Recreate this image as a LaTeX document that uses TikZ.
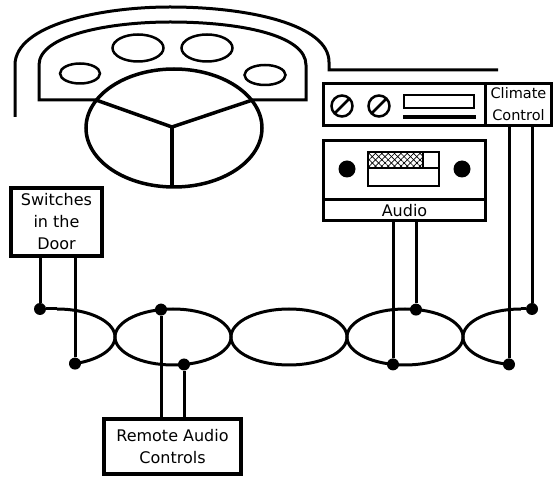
\documentclass[tikz,border=0pt]{standalone}
\usepackage{fontspec}
\setmainfont{DejaVu Sans}
\usetikzlibrary{patterns.meta}
\begin{document}
\begin{tikzpicture}[x=1pt,y=-1pt,
  wire/.style={line width=3pt},
  dashline/.style={line width=3pt},
  gauge/.style={line width=2.5pt},
  labelbox/.style={draw, line width=3.5pt, inner sep=0pt, align=center, font=\fontsize{16}{22}\selectfont},
  unitbox/.style={draw, line width=3pt, inner sep=0pt, align=center, font=\fontsize{16}{22}\selectfont},
  dot/.style={circle, fill=black, inner sep=0pt, minimum size=12pt}]
\useasboundingbox (0,0) rectangle (555,478);

% dashboard
\draw[dashline] (15,117) -- (15,65) .. controls (15,25) and (100,7) .. (170,7)
  .. controls (250,7) and (329,25) .. (329,62) -- (329,70) -- (498,70);
\draw[dashline] (39,100) -- (39,65) .. controls (39,35) and (110,22) .. (170,22)
  .. controls (240,22) and (306,35) .. (306,65) -- (306,100) -- cycle;
% gauges
\draw[gauge] (80,73.5) ellipse [x radius=20pt, y radius=10pt];
\draw[gauge] (138,48) ellipse [x radius=25.5pt, y radius=13.5pt];
\draw[gauge] (207,48) ellipse [x radius=25.5pt, y radius=13.5pt];
\draw[gauge] (265,75) ellipse [x radius=20.5pt, y radius=10pt];
% steering wheel
\draw[line width=3.5pt, fill=white] (174,128) ellipse [x radius=88pt, y radius=59pt];
\coordinate (hub) at (172,127);
\coordinate (sl) at (96,100);
\coordinate (sr) at (251,100.5);
\coordinate (sb) at (172,187);
\draw[line width=3.5pt] (sl) -- (hub) -- (sr);
\draw[line width=3.5pt] (hub) -- (sb);

% radio / climate
\node[unitbox, minimum width=162pt, minimum height=42pt] (radio) at (404.5,104.5) {};
\node[unitbox, minimum width=66pt, minimum height=42pt, font=\fontsize{14.5}{22}\selectfont] (clim) at (518.5,104.5) {Climate\\Control};
\draw[line width=2.5pt] (342,106) circle (10.5pt);
\draw[line width=2.5pt] (379,106) circle (10.5pt);
\draw[line width=2.5pt] (342,106) ++(225:10.5pt) -- ++(45:21pt);
\draw[line width=2.5pt] (379,106) ++(225:10.5pt) -- ++(45:21pt);
\draw[line width=2.5pt] (404,95) rectangle (474,108);
\draw[line width=4pt] (403,117.5) -- (476,117.5);

% audio
\node[unitbox, minimum width=162pt, minimum height=59.5pt] (cass) at (404.5,170.25) {};
\node[unitbox, minimum width=162pt, minimum height=20.5pt] (alab) at (404.5,210.25) {Audio};
\fill (347,169) circle (8.5pt);
\fill (462,169) circle (8.5pt);
\fill[pattern={Lines[angle=45,distance=4.5pt,line width=0.7pt]}] (369,153) rectangle (423,168);
\fill[pattern={Lines[angle=-45,distance=4.5pt,line width=0.7pt]}] (369,153) rectangle (423,168);
\draw[line width=2.2pt] (368,152) rectangle (439,186);
\draw[line width=2.2pt] (368,168) -- (439,168);
\draw[line width=2.2pt] (423,152) -- (423,168);

% label boxes
\node[labelbox, minimum width=91pt, minimum height=68pt] (sw) at (56.5,222) {Switches\\in the\\Door};
\node[labelbox, minimum width=137pt, minimum height=55pt] (rac) at (172.5,446.5) {Remote Audio\\Controls};

% twisted pair
\draw[wire] plot[domain=90:-72, samples=60] ({57+58*cos(\x)},{337-28*sin(\x)});
\draw[wire] plot[domain=-102:-270, samples=60] ({521+58*cos(\x)},{337-28*sin(\x)});
\draw[wire] (173,337) ellipse [x radius=58pt, y radius=28pt];
\draw[wire] (289,337) ellipse [x radius=58pt, y radius=28pt];
\draw[wire] (405,337) ellipse [x radius=58pt, y radius=28pt];

\node[dot] (d1) at (40,309) {};
\node[dot] (d2) at (75,363.6) {};
\node[dot] (d3) at (161,309.6) {};
\node[dot] (d4) at (184,364.5) {};
\node[dot] (d5) at (393,364.4) {};
\node[dot] (d6) at (416,309.6) {};
\node[dot] (d7) at (509,364.4) {};
\node[dot] (d8) at (532,309) {};
\coordinate (le) at (57,309);
\coordinate (re) at (521,309);
\draw[wire] (d1) -- (le);
\draw[wire] (re) -- (d8);

% wires
\draw[wire] (sw.south -| d1) -- (d1);
\draw[wire] (sw.south -| d2) -- (d2);
\draw[wire] (d3) -- (d3 |- rac.north);
\draw[wire] (d4) -- (d4 |- rac.north);
\draw[wire] (alab.south -| d5) -- (d5);
\draw[wire] (alab.south -| d6) -- (d6);
\draw[wire] (clim.south -| d7) -- (d7);
\draw[wire] (clim.south -| d8) -- (d8);
\end{tikzpicture}
\end{document}
